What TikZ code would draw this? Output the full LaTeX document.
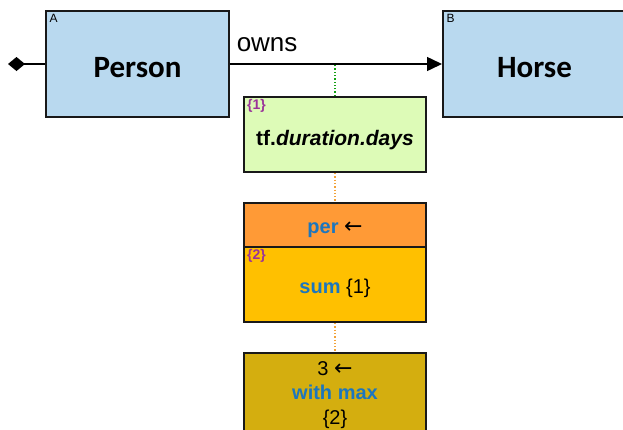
\documentclass[tikz,border=0pt]{standalone}
\usepackage{fontspec}
\setmainfont{Liberation Sans}
\newfontfamily\calibri{Carlito}
\newfontfamily\arrowfont{DejaVu Sans}
\usetikzlibrary{arrows.meta}

\definecolor{classblue}{HTML}{B9D9EF}
\definecolor{exprgreen}{HTML}{DDFBB7}
\definecolor{perorange}{HTML}{FF9A36}
\definecolor{sumamber}{HTML}{FFC000}
\definecolor{maxgold}{HTML}{D4AE0F}
\definecolor{kwblue}{HTML}{1C76BE}
\definecolor{tagpurple}{HTML}{9A3399}
\definecolor{linkgreen}{HTML}{12A012}
\definecolor{linkorange}{HTML}{F2A33A}

\begin{document}
\begin{tikzpicture}[
    x=1pt, y=-1pt,
    font=\fontsize{20}{24.5}\selectfont,
    % Styles
    class_box/.style={draw=black!90, line width=2pt, fill=classblue, inner sep=0pt,
        minimum width=183pt, minimum height=106pt, text height=26pt, text depth=0pt,
        font=\calibri\bfseries\fontsize{31}{36}\selectfont},
    op_box/.style={draw=black!90, line width=2pt, inner sep=0pt, align=center,
        minimum width=182pt},
    class_tag/.style={anchor=north west, inner xsep=4.5pt, inner ysep=4pt,
        font=\fontsize{12}{14}\selectfont},
    expr_tag/.style={anchor=north west, inner xsep=4pt, inner ysep=3.5pt, text=tagpurple,
        font=\bfseries\fontsize{14}{16}\selectfont},
    assoc/.style={line width=1.5pt, black},
    green_link/.style={linkgreen, line width=1.3pt, dotted},
    orange_link/.style={linkorange, line width=1.3pt, dotted}
]
    \useasboundingbox (0,0) rectangle (623,429);

    % ==========================================
    % 1. CLASSES
    % ==========================================
    \node[class_box] (person) at (137.5,64) {Person};
    \node[class_box] (horse) at (534.5,64) {Horse};
    \node[class_tag] (personTag) at (person.north west) {A};
    \node[class_tag] (horseTag) at (horse.north west) {B};

    % ==========================================
    % 2. ASSOCIATION
    % ==========================================
    \coordinate (roleEnd) at (8,64);
    \draw[assoc, {Diamond[length=17pt,width=14pt]}-] (roleEnd) -- (person.west);
    \draw[assoc, -{Triangle[length=15pt,width=14pt]}] (person.east) -- (horse.west)
        node[pos=0, anchor=base west, xshift=6pt, yshift=13pt, inner sep=0pt,
             font=\fontsize{26}{30}\selectfont] (ownsLabel) {owns};

    % ==========================================
    % 3. EXPRESSION CHAIN
    % ==========================================
    \node[op_box, fill=exprgreen, minimum height=75pt, text height=21pt, text depth=0pt,
          font=\bfseries\fontsize{21}{25}\selectfont] (tf) at (335,134.5)
        {tf.\textit{duration.days}};
    \node[expr_tag] (tfTag) at (tf.north west) {\{1\}};

    \node[op_box, fill=perorange, minimum height=44pt, text height=16pt, text depth=0pt]
        (per) at (335,225)
        {\textcolor{kwblue}{\bfseries per} {\arrowfont\fontsize{22}{24}\selectfont ←}};
    \node[op_box, fill=sumamber, minimum height=75pt, text height=17pt, text depth=0pt]
        (sum) at (335,284.5)
        {\textcolor{kwblue}{\bfseries sum} \{1\}};
    \node[expr_tag] (sumTag) at (sum.north west) {\{2\}};

    \node[op_box, fill=maxgold, minimum height=84pt] (max) at (335,395)
        {3 {\arrowfont\fontsize{22}{24}\selectfont ←}\\
         \textcolor{kwblue}{\bfseries with max}\\
         \{2\}};

    % ==========================================
    % 4. DOTTED LINKS
    % ==========================================
    \coordinate (ownsPoint) at (tf.north |- person.east);
    \draw[green_link] (tf.north) -- (ownsPoint);
    \draw[orange_link] (tf.south) -- (per.north);
    \draw[orange_link] (sum.south) -- (max.north);

\end{tikzpicture}
\end{document}
